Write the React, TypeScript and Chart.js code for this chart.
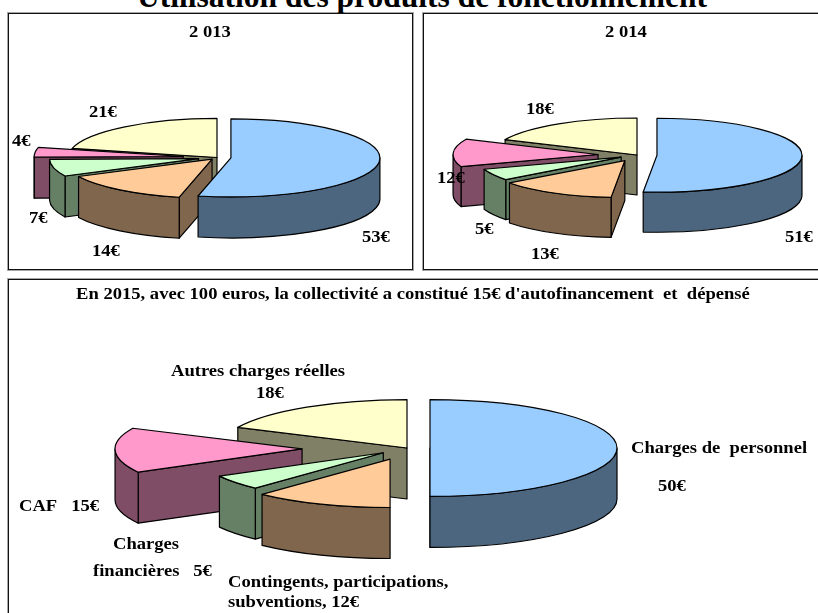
import React, { useEffect, useRef } from "react";
import { Chart, PieController, registerables } from "chart.js";

// Budget breakdown per 100 euros, in slice order starting at twelve o'clock.
const categories = [
  "Charges de personnel",
  "Contingents, participations, subventions",
  "Charges financières",
  "CAF",
  "Autres charges réelles",
];
const values2013 = [53, 14, 7, 4, 21];
const values2014 = [51, 13, 5, 12, 18];
const values2015 = [50, 12, 5, 15, 18];

const topColors = ["#99CCFF", "#FFCC99", "#CCFFCC", "#FF99CC", "#FFFFCC"];
const wallColors = ["#4D6680", "#80664D", "#668066", "#804D66", "#808066"];

const SERIF = '"Liberation Serif", "Times New Roman", serif';

// Pie drawn as an extruded, tilted disc: the arc elements keep their regular
// geometry and are only projected onto an ellipse when painted.
class TiltedPieController extends PieController {
  static id = "tiltedPie";

  draw() {
    const ctx: CanvasRenderingContext2D = this.chart.ctx;
    const { tilt, depth, wallColor } = this.getDataset() as any;
    const arcs = this.getMeta().data as any[];

    ctx.save();
    ctx.lineWidth = 1.2;
    ctx.strokeStyle = "#000";
    ctx.lineJoin = "round";

    // The first slice is painted last so that it sits over its neighbours.
    for (let i = arcs.length - 1; i >= 0; i--) {
      const arc = arcs[i];
      const a0: number = arc.startAngle;
      const a1: number = arc.endAngle;
      const r: number = arc.outerRadius;
      const off: number = arc.options.offset || 0;
      const mid = (a0 + a1) / 2;
      const cx: number = arc.x + Math.cos(mid) * off;
      const cy: number = arc.y + Math.sin(mid) * off * tilt;
      const ry = r * tilt;
      const px = (a: number) => cx + Math.cos(a) * r;
      const py = (a: number) => cy + Math.sin(a) * ry;

      const radialWall = (a: number) => {
        ctx.beginPath();
        ctx.moveTo(cx, cy);
        ctx.lineTo(px(a), py(a));
        ctx.lineTo(px(a), py(a) + depth);
        ctx.lineTo(cx, cy + depth);
        ctx.closePath();
        ctx.fillStyle = wallColor[i];
        ctx.fill();
        ctx.stroke();
      };

      // Cut faces turned towards the viewer.
      if (Math.cos(a0) < 0) radialWall(a0);
      if (Math.cos(a1) > 0) radialWall(a1);

      // Rim: only the part of the arc on the near half of the disc.
      const w0 = Math.max(a0, 0);
      const w1 = Math.min(a1, Math.PI);
      if (w1 > w0) {
        ctx.beginPath();
        ctx.ellipse(cx, cy, r, ry, 0, w0, w1);
        ctx.lineTo(px(w1), py(w1) + depth);
        ctx.ellipse(cx, cy + depth, r, ry, 0, w1, w0, true);
        ctx.closePath();
        ctx.fillStyle = wallColor[i];
        ctx.fill();
        ctx.stroke();
      }

      // Top face.
      ctx.beginPath();
      ctx.moveTo(cx, cy);
      ctx.ellipse(cx, cy, r, ry, 0, a0, a1);
      ctx.closePath();
      ctx.fillStyle = arc.options.backgroundColor;
      ctx.fill();
      ctx.stroke();
    }
    ctx.restore();
  }
}

Chart.register(...registerables, TiltedPieController as any);

type Caption = { text: string; x: number; y: number };

// Paints the captions of a panel, given in page coordinates, above the pie.
// The type is set slightly wide, hence the horizontal scale factor.
const captionPlugin = {
  id: "captions",
  afterDraw(chart: any, _args: any, opts: any) {
    const ctx: CanvasRenderingContext2D = chart.ctx;
    ctx.fillStyle = "#000";
    ctx.textAlign = "left";
    ctx.textBaseline = "alphabetic";
    ctx.font = `bold ${opts.size}px ${SERIF}`;
    for (const c of opts.items as Caption[]) {
      ctx.save();
      ctx.translate(c.x - opts.originX, c.y - opts.originY);
      ctx.scale(opts.stretch, 1);
      ctx.fillText(c.text, 0, 0);
      ctx.restore();
    }
  },
};

const euro = (v: number) => `${v}€`;

const panels = [
  {
    box: { x: 8, y: 13, w: 405, h: 257 },
    center: { x: 217, y: 157.5 },
    radius: 149,
    tilt: 0.262,
    depth: 41,
    offsets: [14, 8, 19, 34, 0],
    values: values2013,
    captions: [
      { text: "2 013", x: 189, y: 37 },
      { text: euro(values2013[4]), x: 89, y: 117 },
      { text: euro(values2013[3]), x: 12, y: 146 },
      { text: euro(values2013[2]), x: 29, y: 223 },
      { text: euro(values2013[1]), x: 92, y: 256 },
      { text: euro(values2013[0]), x: 362, y: 242 },
    ],
  },
  {
    box: { x: 423, y: 13, w: 405, h: 257 },
    center: { x: 637, y: 155 },
    radius: 145,
    tilt: 0.255,
    depth: 40,
    offsets: [20, 25, 18, 39, 0],
    values: values2014,
    captions: [
      { text: "2 014", x: 605, y: 37 },
      { text: euro(values2014[4]), x: 526, y: 114 },
      { text: euro(values2014[3]), x: 437, y: 183 },
      { text: euro(values2014[2]), x: 475, y: 234 },
      { text: euro(values2014[1]), x: 531, y: 259 },
      { text: euro(values2014[0]), x: 785, y: 242 },
    ],
  },
  {
    box: { x: 8, y: 279, w: 812, h: 360 },
    center: { x: 407, y: 448 },
    radius: 187,
    tilt: 0.259,
    depth: 51,
    offsets: [23, 46, 30, 105, 0],
    values: values2015,
    captions: [
      { text: "En 2015, avec 100 euros, la collectivité a constitué 15€ d'autofinancement  et  dépensé", x: 76, y: 299 },
      { text: categories[4], x: 171, y: 376 },
      { text: euro(values2015[4]), x: 256, y: 398 },
      { text: `CAF   ${euro(values2015[3])}`, x: 19, y: 511 },
      { text: "Charges", x: 113, y: 549 },
      { text: `financières   ${euro(values2015[2])}`, x: 93, y: 576 },
      { text: "Contingents, participations,", x: 228, y: 587 },
      { text: `subventions, ${euro(values2015[1])}`, x: 228, y: 607 },
      { text: "Charges de  personnel", x: 631, y: 453 },
      { text: euro(values2015[0]), x: 658, y: 491 },
    ],
  },
];

type Panel = (typeof panels)[number];

function PieCard({ panel }: { panel: Panel }) {
  const ref = useRef<HTMLCanvasElement | null>(null);

  useEffect(() => {
    const { box, center } = panel;
    const cx = center.x - box.x;
    const cy = center.y - box.y;
    // Padding that places the middle of the chart area on the disc centre.
    const padding = {
      left: Math.max(2 * cx - box.w, 0),
      right: Math.max(box.w - 2 * cx, 0),
      top: Math.max(2 * cy - box.h, 0),
      bottom: Math.max(box.h - 2 * cy, 0),
    };
    const chart = new Chart(ref.current as HTMLCanvasElement, {
      type: "tiltedPie" as any,
      data: {
        labels: categories,
        datasets: [
          {
            data: panel.values,
            backgroundColor: topColors,
            offset: panel.offsets,
            wallColor: wallColors,
            tilt: panel.tilt,
            depth: panel.depth,
          } as any,
        ],
      },
      options: {
        responsive: false,
        animation: false,
        events: [],
        radius: panel.radius,
        layout: { padding },
        plugins: {
          legend: { display: false },
          tooltip: { enabled: false },
          captions: {
            items: panel.captions,
            size: 17.5,
            stretch: 1.062,
            originX: box.x,
            originY: box.y,
          },
        },
      } as any,
      plugins: [captionPlugin],
    });
    return () => chart.destroy();
  }, [panel]);

  const { x, y, w, h } = panel.box;
  return (
    <div
      style={{
        position: "absolute",
        left: x,
        top: y,
        width: w,
        height: h,
        boxSizing: "border-box",
        background: "#fff",
        boxShadow: "0 0 0 1px rgba(0,0,0,0.35)",
      }}
    >
      <canvas ref={ref} width={w} height={h} style={{ display: "block" }} />
      <div
        style={{
          position: "absolute",
          inset: 0,
          boxSizing: "border-box",
          border: "1px solid #111",
          pointerEvents: "none",
        }}
      />
    </div>
  );
}

export default function App() {
  return (
    <div
      style={{
        position: "fixed",
        left: 0,
        top: 0,
        width: 818,
        height: 613,
        overflow: "hidden",
        background: "#fff",
      }}
    >
      <div
        style={{
          position: "absolute",
          left: 0,
          width: 844,
          top: -21,
          textAlign: "center",
          font: `bold 31.5px/36px ${SERIF}`,
          color: "#000",
          whiteSpace: "nowrap",
        }}
      >
        Utilisation des produits de fonctionnement
      </div>
      {panels.map((p, i) => (
        <PieCard key={i} panel={p} />
      ))}
    </div>
  );
}
